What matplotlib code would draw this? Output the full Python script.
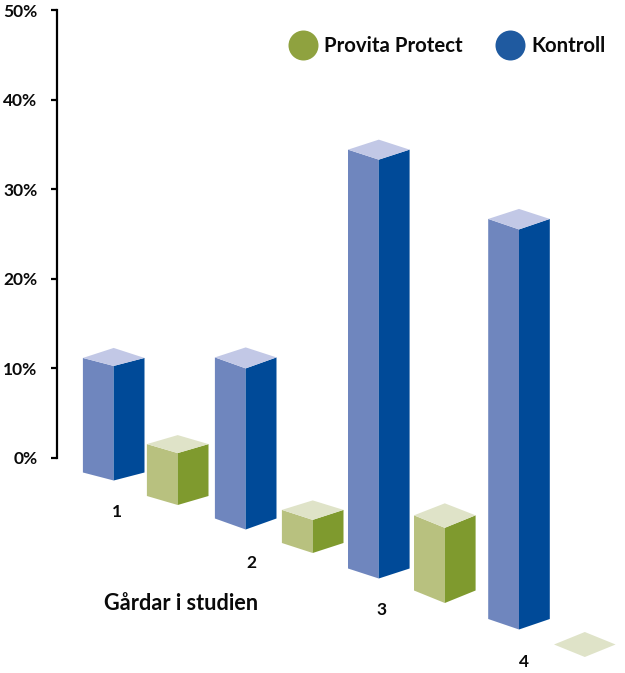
import matplotlib
matplotlib.use("Agg")
import matplotlib.pyplot as plt
from matplotlib.patches import Polygon
from matplotlib.lines import Line2D

# ---- data ----
farms = ["1", "2", "3", "4"]
kontroll = [12.8, 18.0, 46.8, 44.7]
provita = [5.8, 3.7, 8.4, 0.0]
yticks = [0, 10, 20, 30, 40, 50]
ytick_labels = ["0%", "10%", "20%", "30%", "40%", "50%"]
series_names = ["Provita Protect", "Kontroll"]
axis_title = "Gårdar i studien"

# ---- layout (pixels of the oblique floor) ----
W, H = 625, 673
ZERO_PX, PX_PER_PCT = 457.7, 8.95
HALF = 30.8
K_X = [113.7, 245.7, 378.8, 519.0]
K_FLOOR = [480.5, 529.5, 578.5, 629.5]
K_DROP = [8, 11, 10, 10.5]
K_RISE = [10, 10, 10, 10]
P_X = [177.7, 312.7, 444.8, 584.8]
P_FLOOR = [505, 553, 603, 657]
P_DROP = [9, 10, 12.5, 12.5]
P_RISE = [9, 9.5, 12, 12.5]
FARM_LABEL_POS = [(117, 512), (251, 563), (382, 610), (524, 662)]

K_COLS = dict(left="#6F86BE", right="#004A98", top="#C2C8E6")
P_COLS = dict(left="#B8C17F", right="#7F9A2E", top="#DFE3C8")

FONT = "Lato"
INK = "#0A0A0A"
plt.rcParams["font.family"] = [FONT, "DejaVu Sans"]

fig = plt.figure(figsize=(W / 100, H / 100), dpi=100, facecolor="white")
ax = fig.add_axes([0, 0, 1, 1])
ax.set_xlim(0, W)
ax.set_ylim((ZERO_PX - H) / PX_PER_PCT, ZERO_PX / PX_PER_PCT)
ax.patch.set_visible(False)


def px(v):
    """convert a pixel drop to value units"""
    return v / PX_PER_PCT


def box(xc, floor_px, value, drop, rise, cols):
    y0 = (ZERO_PX - floor_px) / PX_PER_PCT
    y1 = y0 + value
    l, r = xc - HALF, xc + HALF
    d, u = px(drop), px(rise)
    if value > 0:
        ax.add_patch(Polygon([(l, y0 + d), (xc, y0), (xc, y1), (l, y1 + d)],
                             closed=True, fc=cols["left"], ec="none", zorder=2))
        ax.add_patch(Polygon([(xc, y0), (r, y0 + d), (r, y1 + d), (xc, y1)],
                             closed=True, fc=cols["right"], ec="none", zorder=2))
    ax.add_patch(Polygon([(l, y1 + d), (xc, y1), (r, y1 + d), (xc, y1 + d + u)],
                         closed=True, fc=cols["top"], ec="none", zorder=2))


for i in range(len(farms)):
    box(K_X[i], K_FLOOR[i], kontroll[i], K_DROP[i], K_RISE[i], K_COLS)
    box(P_X[i], P_FLOOR[i], provita[i], P_DROP[i], P_RISE[i], P_COLS)

for s in ("top", "right", "bottom"):
    ax.spines[s].set_visible(False)
ax.spines["left"].set_position(("data", 57))
ax.spines["left"].set_bounds(0, 50)
ax.spines["left"].set_linewidth(1.6)
ax.set_xticks([])
ax.set_yticks(yticks)
ax.set_yticklabels(ytick_labels, fontsize=12.5, fontweight="bold", color=INK)
ax.tick_params(axis="y", length=4.5, width=1.6, pad=9.5)

for name, (x, y) in zip(farms, FARM_LABEL_POS):
    ax.text(x, (ZERO_PX - y) / PX_PER_PCT, name, ha="center", va="center",
            fontsize=12.5, fontweight="bold", color=INK)

ax.text(181, (ZERO_PX - 603) / PX_PER_PCT, axis_title, ha="center", va="center",
        fontsize=15.6, fontweight="bold", color=INK)

handles = [Line2D([], [], ls="none", marker="o", ms=21.6, mfc=c, mec="none")
           for c in ("#8FA23F", "#1F5AA0")]
ax.legend(handles, series_names, ncol=2, frameon=False, loc="center left",
          bbox_to_anchor=(293 / W, 1 - 46 / H), bbox_transform=ax.transAxes,
          prop=dict(family=FONT, weight="bold", size=14.7), labelcolor=INK,
          handlelength=1.0, handletextpad=0.54, columnspacing=1.8, borderaxespad=0, borderpad=0)

fig.savefig("out.png", dpi=100)
